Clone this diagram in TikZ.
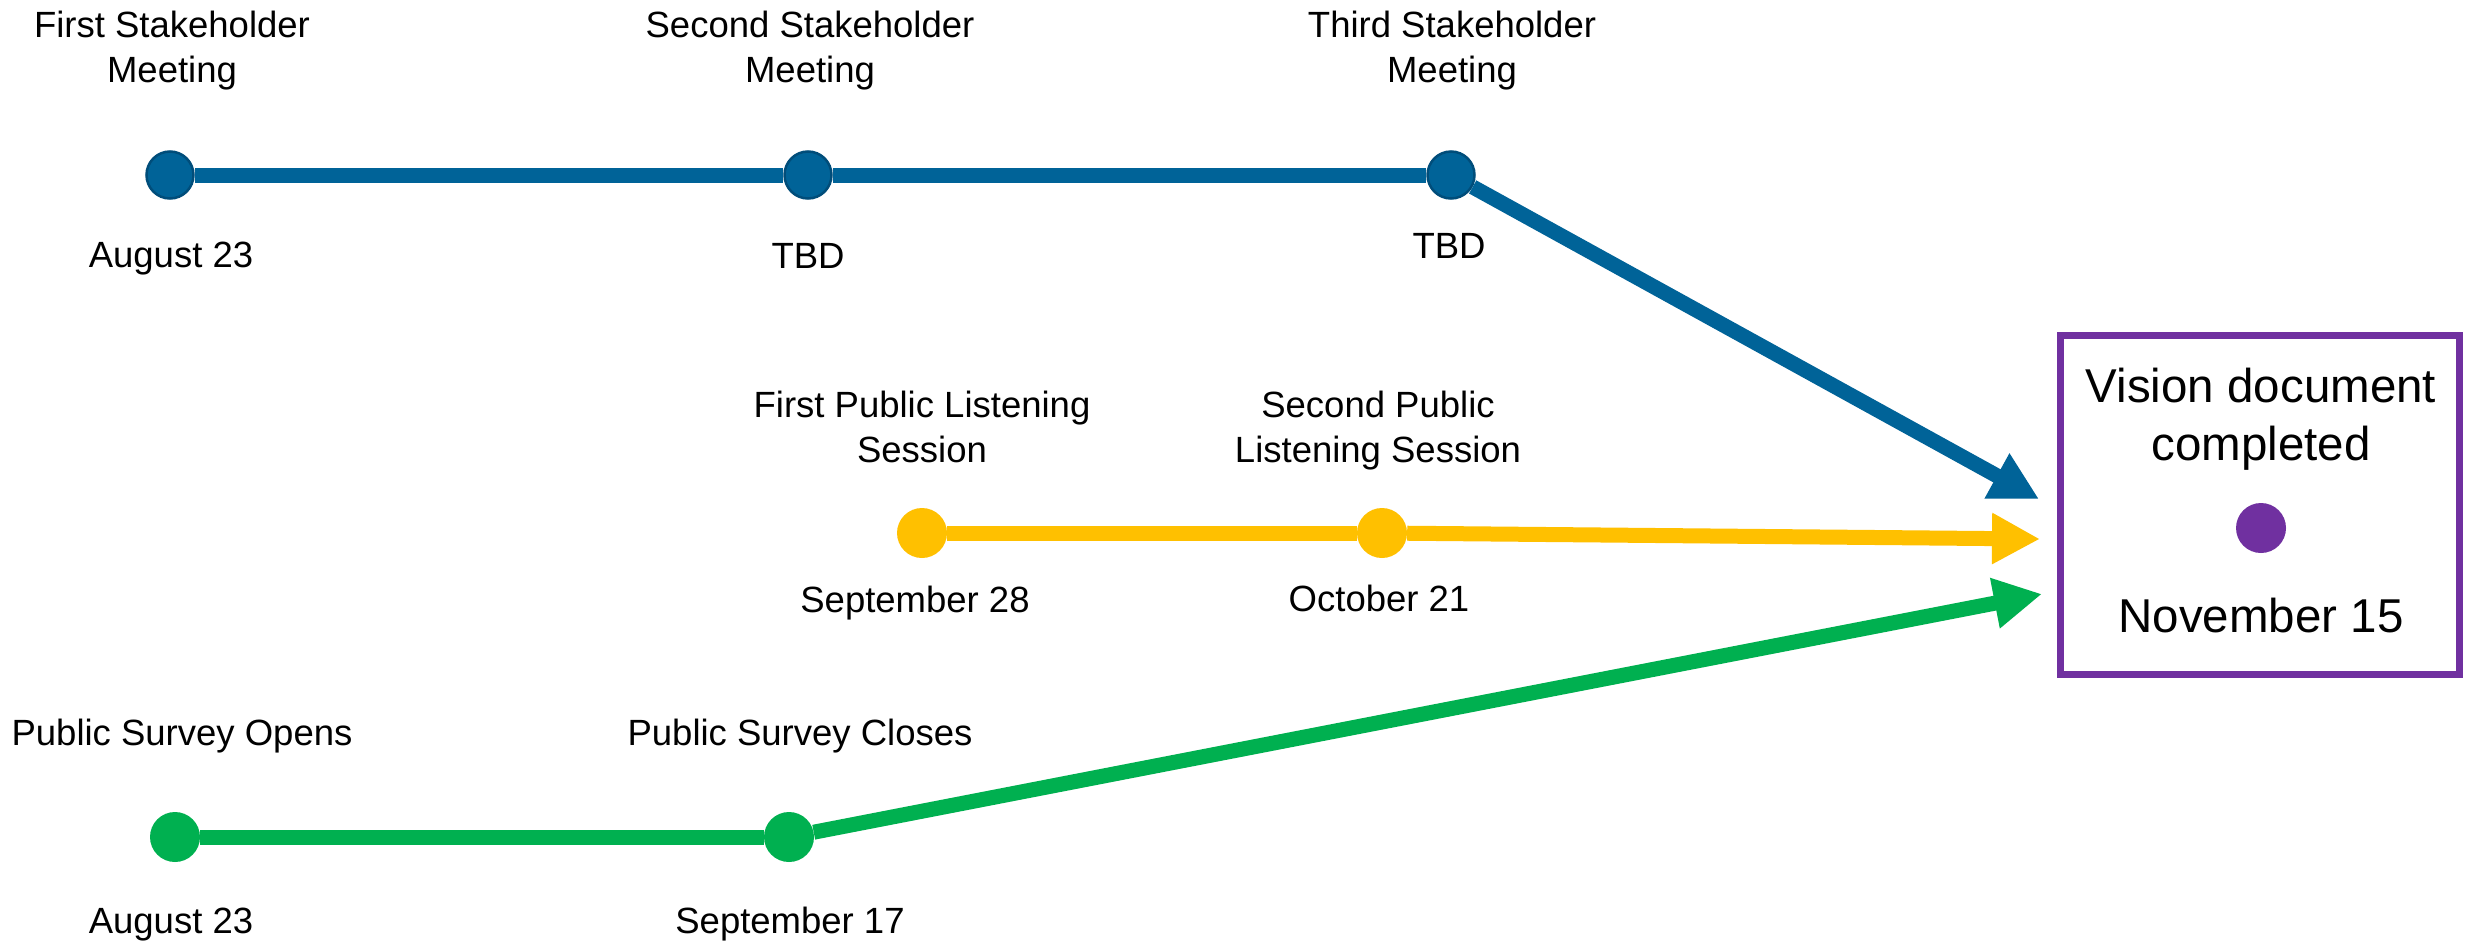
\documentclass[tikz,border=0pt]{standalone}
\usepackage{fontspec}
\setmainfont{Liberation Sans}
\usetikzlibrary{arrows.meta}
\definecolor{tlblue}{HTML}{006398}
\definecolor{tlblueedge}{HTML}{004D7A}
\definecolor{tlyellow}{HTML}{FFC000}
\definecolor{tlgreen}{HTML}{00B050}
\definecolor{tlpurple}{HTML}{7030A0}
\begin{document}
\begin{tikzpicture}[x=1pt,y=-1pt,
  lbl/.style={font=\fontsize{36.5}{45}\selectfont, inner sep=0pt, align=center, anchor=base},
  biglbl/.style={font=\fontsize{47.5}{58}\selectfont, inner sep=0pt, align=center, anchor=base},
  dotnode/.style={circle, inner sep=0pt, minimum size=50pt},
  bluedot/.style={dotnode, minimum size=47pt, fill=tlblue, draw=tlblueedge, line width=2.5pt},
  yellowdot/.style={dotnode, fill=tlyellow},
  greendot/.style={dotnode, fill=tlgreen},
  purpledot/.style={dotnode, fill=tlpurple},
  track/.style={line width=15pt},
  tip/.style={-{Triangle[length=48pt,width=48pt]}}
]
\fill[white] (0,0) rectangle (2466,945);
\useasboundingbox (0,0) rectangle (2466,945);

% blue stakeholder track
\node[bluedot] (b1) at (170,175) {};
\node[bluedot] (b2) at (808,175) {};
\node[bluedot] (b3) at (1451,175) {};
% yellow listening track
\node[yellowdot] (y1) at (922,533) {};
\node[yellowdot] (y2) at (1382,533) {};
% green survey track
\node[greendot] (g1) at (175,837) {};
\node[greendot] (g2) at (789,837) {};

% target box
\node[draw=tlpurple, line width=7pt, minimum width=399pt, minimum height=339pt, inner sep=0pt] (box) at (2260,505) {};
\node[purpledot] (p) at (2261,528) {};
\node[biglbl] (vtxt) at (2261,460) {Vision document\\completed};
\node[biglbl] (vdate) at (2261,632) {November 15};

\coordinate (tB) at (2039,499);
\coordinate (tY) at (2040,539);
\coordinate (tG) at (2042,594);

\draw[track, tlblue] (b1) -- (b2);
\draw[track, tlblue] (b2) -- (b3);
\draw[track, tlblue, tip] (b3) -- (tB);
\draw[track, tlyellow] (y1) -- (y2);
\draw[track, tlyellow, tip] (y2) -- (tY);
\draw[track, tlgreen] (g1) -- (g2);
\draw[track, tlgreen, tip] (g2) -- (tG);

% labels
\node[lbl] (l1) at (172,82) {First Stakeholder\\Meeting};
\node[lbl] (l2) at (810,82) {Second Stakeholder\\Meeting};
\node[lbl] (l3) at (1452,82) {Third Stakeholder\\Meeting};
\node[lbl] (d1) at (171,267) {August 23};
\node[lbl] (d2) at (808,268) {TBD};
\node[lbl] (d3) at (1449,258) {TBD};
\node[lbl] (l4) at (922,462) {First Public Listening\\Session};
\node[lbl] (l5) at (1378,462) {Second Public\\Listening Session};
\node[lbl] (d4) at (915,612) {September 28};
\node[lbl] (d5) at (1379,611) {October 21};
\node[lbl] (l6) at (182,745) {Public Survey Opens};
\node[lbl] (l7) at (800,745) {Public Survey Closes};
\node[lbl] (d6) at (171,933) {August 23};
\node[lbl] (d7) at (790,933) {September 17};
\end{tikzpicture}
\end{document}
